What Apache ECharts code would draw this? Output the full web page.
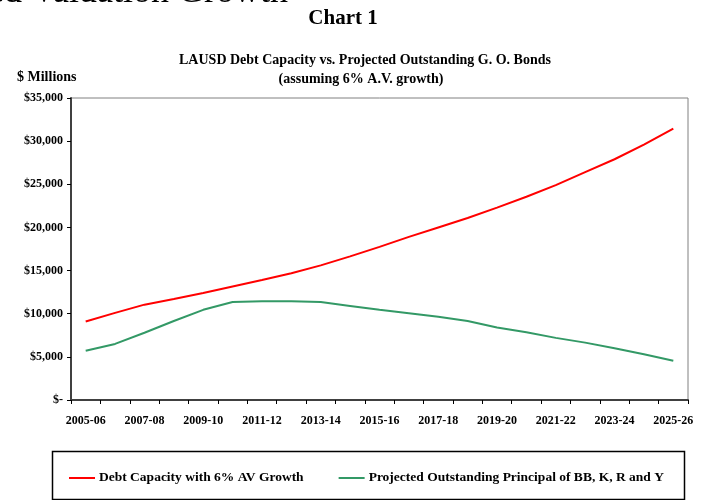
<!DOCTYPE html>
<html>
<head>
<meta charset="utf-8">
<script src="https://cdn.jsdelivr.net/npm/echarts@6/dist/echarts.min.js"></script>
<style>
  html, body { margin: 0; padding: 0; background: #fff; }
  #chart { width: 710px; height: 500px; }
</style>
</head>
<body>
<div id="chart"></div>
<script>
const years = [
  '2005-06', '2006-07', '2007-08', '2008-09', '2009-10', '2010-11', '2011-12',
  '2012-13', '2013-14', '2014-15', '2015-16', '2016-17', '2017-18', '2018-19',
  '2019-20', '2020-21', '2021-22', '2022-23', '2023-24', '2024-25', '2025-26'
];
const debtCapacity = [
  9100, 10100, 11050, 11700, 12400, 13150, 13900, 14700, 15600, 16650, 17750,
  18900, 20000, 21100, 22300, 23550, 24900, 26400, 27900, 29600, 31450
];
const outstandingPrincipal = [
  5700, 6500, 7800, 9150, 10450, 11350, 11450, 11450, 11350, 10900, 10450,
  10050, 9650, 9150, 8400, 7850, 7200, 6650, 6000, 5300, 4550
];
const seriesNames = [
  'Debt Capacity with 6% AV Growth',
  'Projected Outstanding Principal of BB, K, R and Y'
];

const serif = '"Liberation Serif", "Times New Roman", serif';

function money(v) {
  if (v === 0) return '$-';
  return '$' + v.toLocaleString('en-US');
}

const chart = echarts.init(document.getElementById('chart'));
chart.setOption({
  animation: false,
  backgroundColor: '#fff',
  textStyle: { fontFamily: serif },
  title: [
    {
      text: 'Chart 1', left: 338, textAlign: 'center', top: 3,
      textStyle: { fontFamily: serif, fontSize: 21, fontWeight: 'bold', color: '#000' }
    },
    {
      text: 'LAUSD Debt Capacity vs. Projected Outstanding G. O. Bonds',
      left: 360, textAlign: 'center', top: 48,
      textStyle: { fontFamily: serif, fontSize: 14, fontWeight: 'bold', color: '#000' }
    },
    {
      text: '(assuming 6% A.V. growth)',
      left: 356, textAlign: 'center', top: 67,
      textStyle: { fontFamily: serif, fontSize: 14, fontWeight: 'bold', color: '#000' }
    },
    {
      text: '$ Millions', left: 12, top: 65,
      textStyle: { fontFamily: serif, fontSize: 14, fontWeight: 'bold', color: '#000' }
    }
  ],
  graphic: [
    {
      // heading of the page above, cut off at the top edge
      type: 'text', x: 288, y: -25,
      style: {
        text: 'ed Valuation Growth', font: '36px ' + serif, fill: '#000',
        textAlign: 'right', textVerticalAlign: 'top'
      }
    },
    {
      type: 'rect', left: 50, top: 449,
      shape: { width: 632, height: 48 },
      style: { fill: 'none', stroke: '#000', lineWidth: 1.5 }
    }
  ],
  legend: {
    data: seriesNames,
    left: 64, top: 466,
    itemWidth: 26, itemHeight: 2, itemGap: 35,
    icon: 'rect',
    textStyle: { fontFamily: serif, fontSize: 13.5, fontWeight: 'bold', color: '#000', padding: [0, 0, 0, -1] }
  },
  grid: { left: 71, right: 22, top: 98, bottom: 100, show: true, borderColor: '#808080', borderWidth: 1 },
  xAxis: {
    type: 'category',
    data: years,
    boundaryGap: true,
    axisLine: { lineStyle: { color: '#404040', width: 2 } },
    axisTick: { show: true, interval: 0, length: 4, lineStyle: { color: '#000', width: 1 } },
    axisLabel: {
      interval: 1, margin: 15,
      fontFamily: serif, fontSize: 12, fontWeight: 'bold', color: '#000'
    },
    splitLine: { show: false }
  },
  yAxis: {
    type: 'value',
    min: 0, max: 35000, interval: 5000,
    axisLine: { show: true, lineStyle: { color: '#404040', width: 2 } },
    axisTick: { show: true, length: 4, lineStyle: { color: '#000' } },
    axisLabel: {
      formatter: money, margin: 8,
      fontFamily: serif, fontSize: 12, fontWeight: 'bold', color: '#000'
    },
    splitLine: { show: false }
  },
  series: [
    {
      name: seriesNames[0], type: 'line', data: debtCapacity,
      symbol: 'none', smooth: false,
      lineStyle: { color: '#ff0000', width: 2 },
      itemStyle: { color: '#ff0000' }
    },
    {
      name: seriesNames[1], type: 'line', data: outstandingPrincipal,
      symbol: 'none', smooth: false,
      lineStyle: { color: '#339966', width: 2 },
      itemStyle: { color: '#339966' }
    }
  ]
});
</script>
</body>
</html>
